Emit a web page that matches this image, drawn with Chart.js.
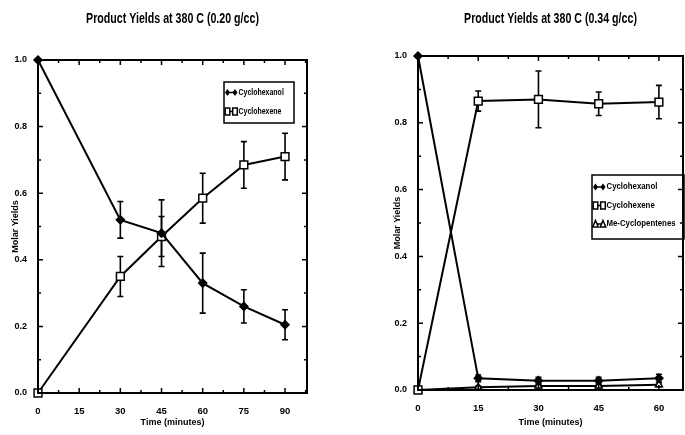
<!DOCTYPE html>
<html>
<head>
<meta charset="utf-8">
<script src="https://cdn.jsdelivr.net/npm/chart.js@4/dist/chart.umd.min.js"></script>
<style>
  html, body { margin: 0; padding: 0; background: #fff; overflow: hidden; width: 685px; height: 435px; }
  .box { position: absolute; top: 0; height: 435px; }
</style>
</head>
<body>
<div class="box" style="left:0;width:342px"><canvas id="left" width="342" height="435"></canvas></div>
<div class="box" style="left:342px;width:416px"><canvas id="right" width="416" height="435"></canvas></div>
<script>
// ---- data ----
const FONT = '"Liberation Sans Narrow", "Liberation Sans", Arial, sans-serif';

// left panel: 0.20 g/cc
const leftTimes = [0, 30, 45, 60, 75, 90];
const leftCyclohexanol = [1.0, 0.52, 0.48, 0.33, 0.26, 0.205];
const leftCyclohexanolErr = [0, 0.055, 0.10, 0.09, 0.05, 0.045];
const leftCyclohexene = [0.0, 0.35, 0.47, 0.585, 0.685, 0.71];
const leftCyclohexeneErr = [0, 0.06, 0.06, 0.075, 0.07, 0.07];

// right panel: 0.34 g/cc
const rightTimes = [0, 15, 30, 45, 60];
const rightCyclohexanol = [1.0, 0.035, 0.028, 0.028, 0.035];
const rightCyclohexanolErr = [0, 0.01, 0.01, 0.01, 0.012];
const rightCyclohexene = [0.0, 0.865, 0.87, 0.857, 0.862];
const rightCyclohexeneErr = [0, 0.03, 0.085, 0.035, 0.05];
const rightMeCyclopentenes = [0.0, 0.008, 0.012, 0.012, 0.016];
const rightMeCyclopentenesErr = [0, 0.004, 0.005, 0.005, 0.006];

const yTicks = [0, 0.2, 0.4, 0.6, 0.8, 1.0];

// squeezed text, the scan uses a condensed face we don't have
function narrowText(ctx, text, x, y, squeeze) {
  ctx.save();
  ctx.translate(x, y);
  ctx.scale(squeeze, 1);
  ctx.fillText(text, 0, 0);
  ctx.restore();
}

// draws frame, inward ticks, error bars, title and the boxed legend
const framePlugin = {
  id: 'frame',
  beforeDatasetsDraw(chart, args, opts) {
    const ctx = chart.ctx, xs = chart.scales.x, ys = chart.scales.y;
    ctx.save();
    ctx.strokeStyle = '#000';
    ctx.lineWidth = 1.6;
    chart.data.datasets.forEach(ds => {
      ds.data.forEach((p, i) => {
        const e = ds.errors[i];
        if (!e) return;
        const x = xs.getPixelForValue(p.x);
        const y1 = ys.getPixelForValue(p.y + e), y2 = ys.getPixelForValue(p.y - e);
        ctx.beginPath();
        ctx.moveTo(x, y1); ctx.lineTo(x, y2);
        ctx.moveTo(x - 3, y1); ctx.lineTo(x + 3, y1);
        ctx.moveTo(x - 3, y2); ctx.lineTo(x + 3, y2);
        ctx.stroke();
      });
    });
    ctx.restore();
  },
  afterDraw(chart, args, opts) {
    const ctx = chart.ctx, a = chart.chartArea, xs = chart.scales.x, ys = chart.scales.y;
    ctx.save();
    ctx.strokeStyle = '#000';
    ctx.lineWidth = 2;
    ctx.strokeRect(a.left, a.top, a.right - a.left, a.bottom - a.top);

    // inward tick marks on all four sides
    ctx.lineWidth = 1.5;
    ctx.beginPath();
    for (let t = 7.5; t < xs.max; t += 7.5) {
      const x = xs.getPixelForValue(t), len = t % 15 === 0 ? 5 : 3;
      ctx.moveTo(x, a.bottom); ctx.lineTo(x, a.bottom - len);
      ctx.moveTo(x, a.top); ctx.lineTo(x, a.top + len);
    }
    for (let k = 1; k < 10; k++) {
      const y = ys.getPixelForValue(k / 10), len = k % 2 === 0 ? 5 : 3;
      ctx.moveTo(a.left, y); ctx.lineTo(a.left + len, y);
      ctx.moveTo(a.right, y); ctx.lineTo(a.right - len, y);
    }
    ctx.stroke();

    // title centred over the plot
    ctx.fillStyle = '#000';
    ctx.font = 'bold 14px ' + FONT;
    ctx.textAlign = 'center';
    ctx.textBaseline = 'middle';
    narrowText(ctx, opts.title, (a.left + a.right) / 2, 19, 0.76);

    // legend box
    const L = opts.legend;
    ctx.lineWidth = 1.5;
    ctx.strokeRect(L.x, L.y, L.w, L.h);
    ctx.font = 'bold 8.5px ' + FONT;
    ctx.textAlign = 'left';
    chart.data.datasets.forEach((ds, i) => {
      const cy = L.y + L.first + i * L.step;
      ctx.beginPath();
      ctx.moveTo(L.x + 3.5, cy); ctx.lineTo(L.x + 11, cy);
      ctx.stroke();
      [L.x + 3.5, L.x + 11].forEach(cx => drawMark(ctx, ds.pointStyle, cx, cy));
      ctx.fillStyle = '#000';
      narrowText(ctx, ds.label, L.x + 14.5, cy, L.squeeze);
    });
    ctx.restore();
  }
};

function drawMark(ctx, style, x, y) {
  ctx.beginPath();
  if (style === 'rectRot') {
    ctx.moveTo(x, y - 3.5); ctx.lineTo(x + 2.5, y); ctx.lineTo(x, y + 3.5); ctx.lineTo(x - 2.5, y);
    ctx.closePath(); ctx.fillStyle = '#000'; ctx.fill();
  } else if (style === 'rect') {
    ctx.rect(x - 2.3, y - 3.5, 4.6, 7); ctx.fillStyle = '#fff'; ctx.fill(); ctx.stroke();
  } else {
    ctx.moveTo(x, y - 3.5); ctx.lineTo(x + 2.8, y + 3); ctx.lineTo(x - 2.8, y + 3);
    ctx.closePath(); ctx.fillStyle = '#fff'; ctx.fill(); ctx.stroke();
  }
}

function makeChart(id, cfg) {
  const styles = {
    'Cyclohexanol': { pointStyle: 'rectRot', pointRadius: 4, pointBackgroundColor: '#000' },
    'Cyclohexene': { pointStyle: 'rect', pointRadius: 5.5, pointBackgroundColor: '#fff' },
    'Me-Cyclopentenes': { pointStyle: 'triangle', pointRadius: 4, pointBackgroundColor: '#fff' }
  };
  new Chart(document.getElementById(id), {
    type: 'line',
    data: {
      datasets: cfg.series.map(s => Object.assign({
        label: s.label,
        data: cfg.times.map((t, i) => ({ x: t, y: s.values[i] })),
        errors: s.errors,
        borderColor: '#000',
        borderWidth: 2,
        pointBorderColor: '#000',
        pointBorderWidth: 1.5,
        tension: 0,
        clip: false
      }, styles[s.label]))
    },
    options: {
      responsive: false,
      animation: false,
      layout: { padding: cfg.padding },
      plugins: {
        legend: { display: false },
        tooltip: { enabled: false },
        frame: { title: cfg.title, legend: cfg.legend }
      },
      scales: {
        x: {
          type: 'linear', min: 0, max: cfg.xMax,
          grid: { display: false }, border: { display: false },
          ticks: { stepSize: 15, includeBounds: false, padding: 5, maxRotation: 0, color: '#000',
                   font: { family: FONT, size: 9.5, weight: 'bold' } },
          title: { display: true, text: 'Time (minutes)', color: '#000', padding: { top: 0, bottom: 6.6 },
                   font: { family: FONT, size: 9, weight: 'bold' } },
          afterFit: s => { s.height = cfg.xHeight; }
        },
        y: {
          type: 'linear', min: 0, max: 1,
          grid: { display: false }, border: { display: false },
          afterBuildTicks: s => { s.ticks = yTicks.map(v => ({ value: v })); },
          ticks: { padding: 3, color: '#000', callback: v => v.toFixed(1),
                   font: { family: FONT, size: 9, weight: 'bold' } },
          title: { display: true, text: 'Molar Yields', color: '#000', padding: { top: cfg.yTitlePad, bottom: 0 },
                   font: { family: FONT, size: 9, weight: 'bold' } },
          afterFit: s => { s.width = cfg.yWidth; }
        }
      }
    },
    plugins: [framePlugin]
  });
}

makeChart('left', {
  title: 'Product Yields at 380 C (0.20 g/cc)',
  times: leftTimes,
  xMax: 98,
  padding: { left: 0, right: 35, top: 60, bottom: 0 },
  yWidth: 38, xHeight: 42, yTitlePad: 10.6,
  legend: { x: 224, y: 82, w: 70, h: 41, first: 10.5, step: 19, squeeze: 0.82 },
  series: [
    { label: 'Cyclohexanol', values: leftCyclohexanol, errors: leftCyclohexanolErr },
    { label: 'Cyclohexene', values: leftCyclohexene, errors: leftCyclohexeneErr }
  ]
});

makeChart('right', {
  title: 'Product Yields at 380 C (0.34 g/cc)',
  times: rightTimes,
  xMax: 66,
  padding: { left: 0, right: 75, top: 56, bottom: 0 },
  yWidth: 76, xHeight: 45, yTitlePad: 50.6,
  legend: { x: 250, y: 175, w: 92, h: 64, first: 12, step: 18.5, squeeze: 0.92 },
  series: [
    { label: 'Cyclohexanol', values: rightCyclohexanol, errors: rightCyclohexanolErr },
    { label: 'Cyclohexene', values: rightCyclohexene, errors: rightCyclohexeneErr },
    { label: 'Me-Cyclopentenes', values: rightMeCyclopentenes, errors: rightMeCyclopentenesErr }
  ]
});
</script>
</body>
</html>
